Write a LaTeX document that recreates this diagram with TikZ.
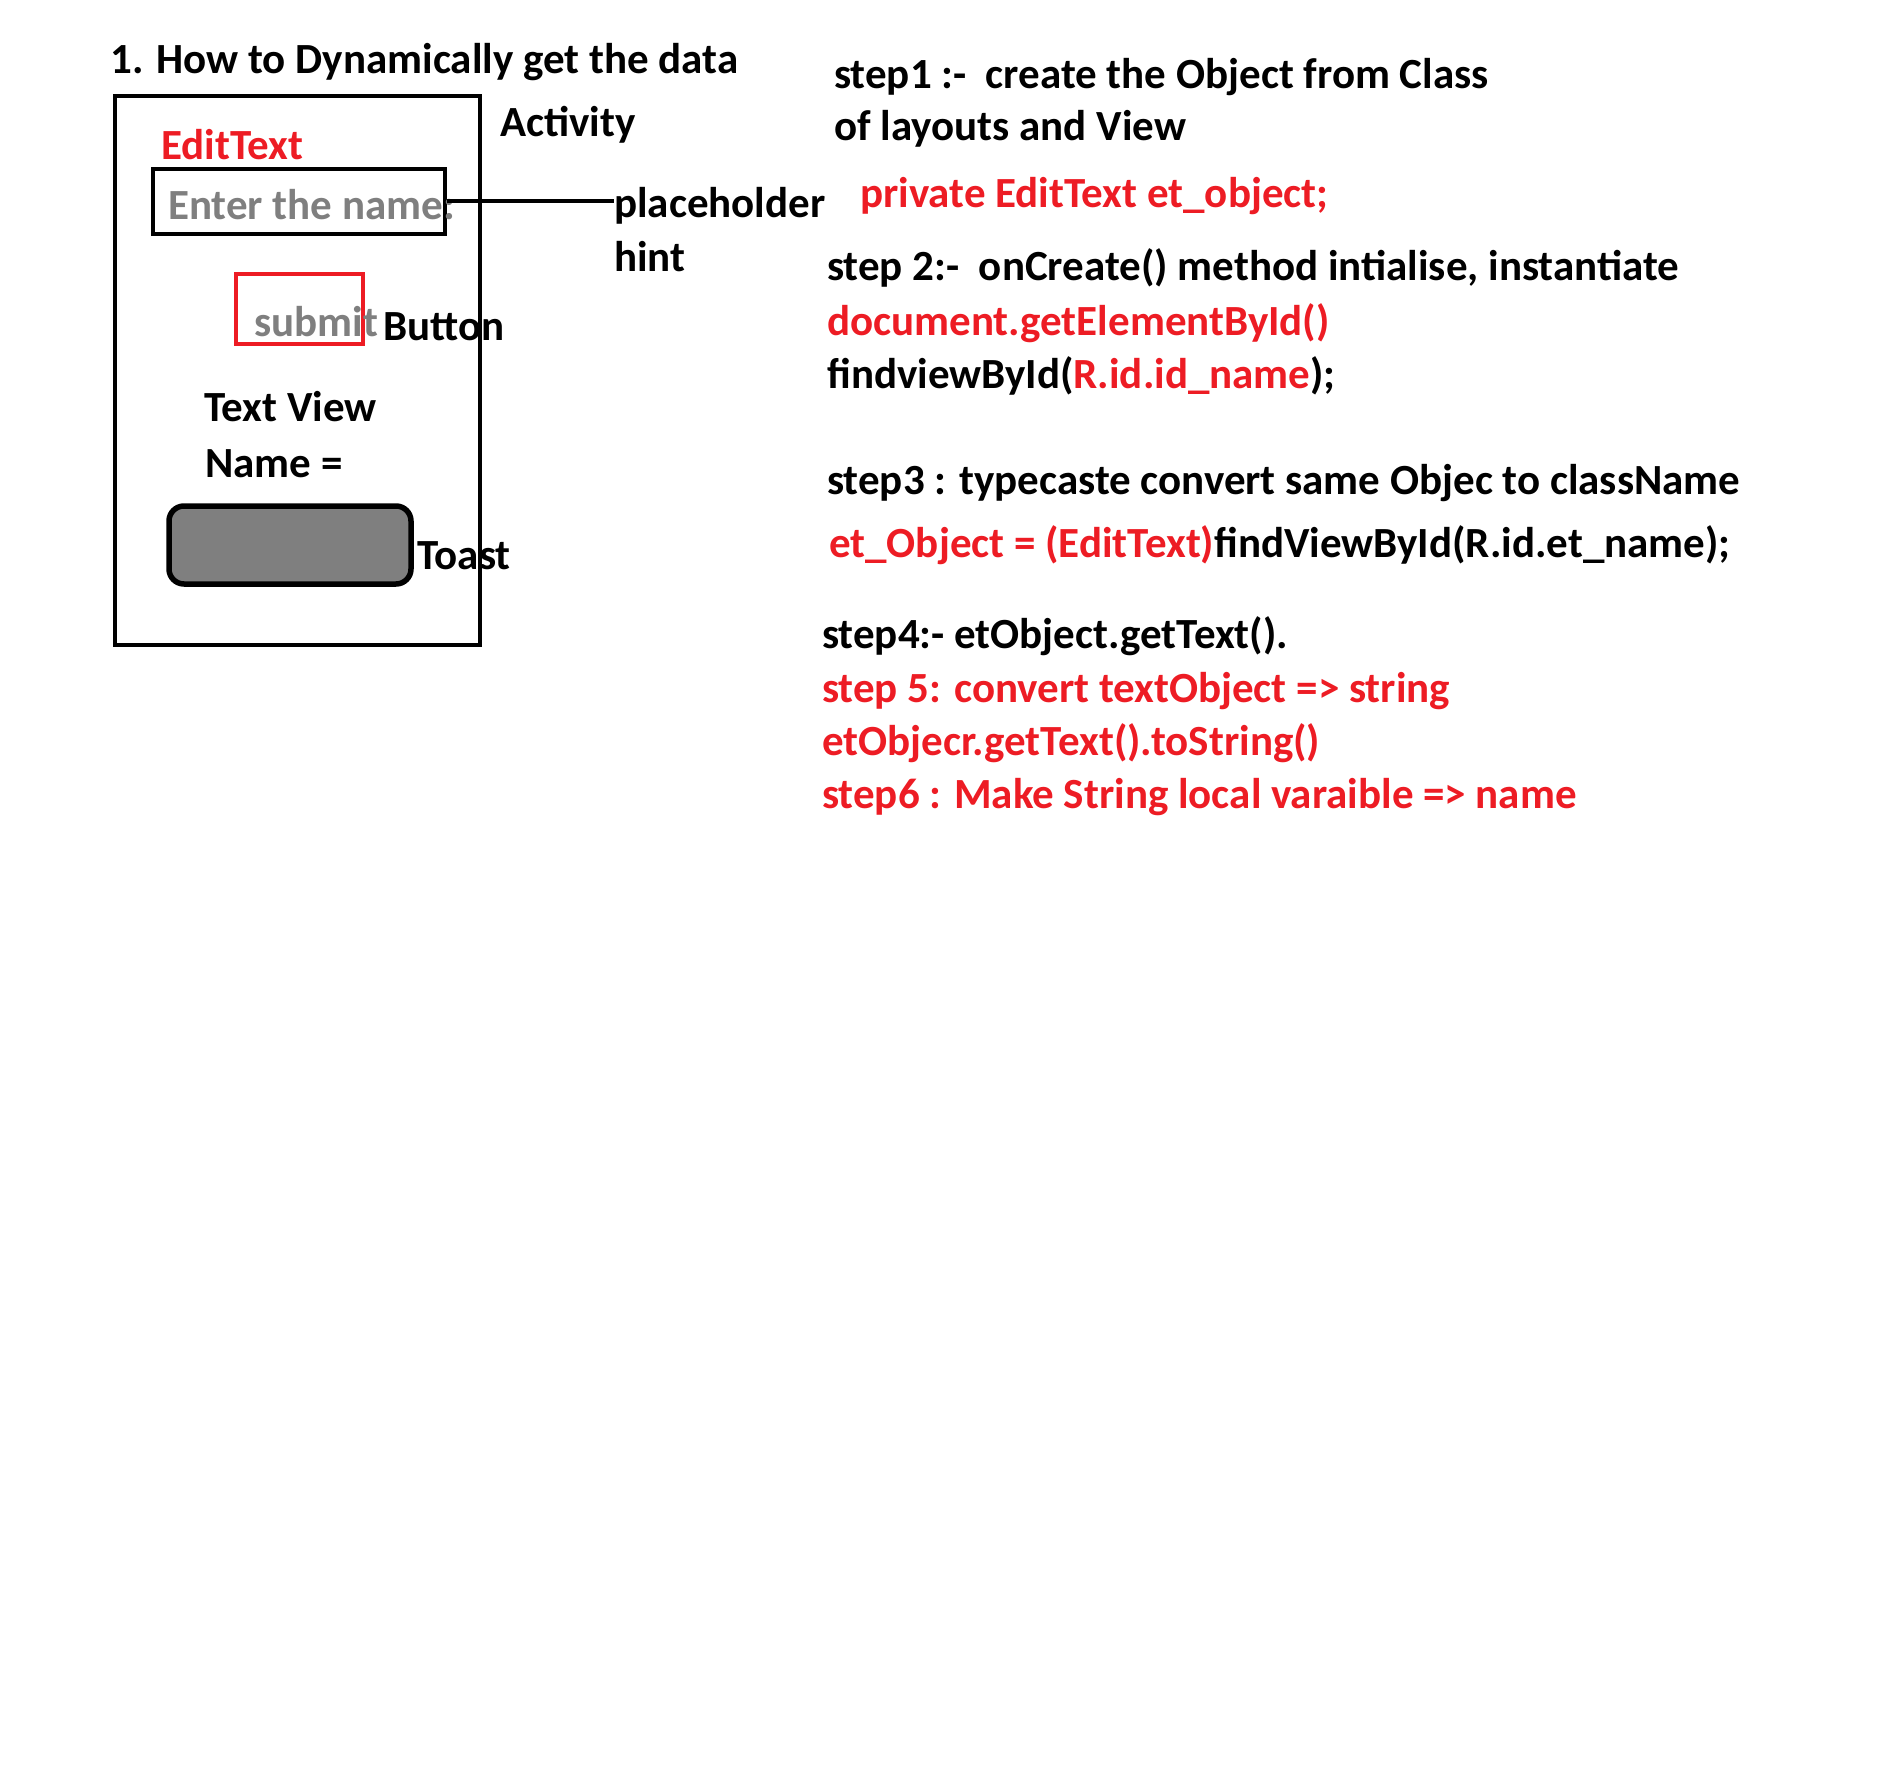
\documentclass[tikz,border=0pt]{standalone}
\usepackage{fontspec}
\setmainfont{Carlito}
\definecolor{pred}{HTML}{ED1C24}
\definecolor{pgray}{HTML}{7F7F7F}
\tikzset{
  txt/.style={anchor=base west, inner sep=0pt, yshift=-2pt, font=\fontsize{43}{52}\selectfont\bfseries},
  redtxt/.style={txt, text=pred},
  graytxt/.style={txt, text=pgray},
  frame/.style={draw=black, line width=4pt},
}
\begin{document}
\begin{tikzpicture}[x=1pt,y=-1pt]
\useasboundingbox (0,0) rectangle (1879,1787);
% left mock-up
\node[txt] (title) at (110,72) {1. How to Dynamically get the data};
\draw[frame] (115,96) rectangle (480,645);
\node[txt] (activity) at (500,135) {Activity};
\node[redtxt] (edittext) at (161,158) {EditText};
\node[draw=black, line width=4pt, minimum width=292pt, minimum height=65pt, inner sep=0pt] (editbox) at (299,201.5) {};
\node[graytxt] (enter) at (168,218) {Enter the name:};
\node[txt] (placeholder) at (614,216) {placeholder};
\node[txt] (hint) at (614,270) {hint};
\draw[line width=4pt] (editbox.east) -- (editbox.east -| placeholder.west);
\node[draw=pred, line width=4pt, minimum width=127pt, minimum height=70pt, inner sep=0pt] (submitbox) at (299.5,309) {};
\node[graytxt] (submit) at (254,334) {submit};
\node[txt] (button) at (383,338) {Button};
\node[txt] (textview) at (204,419) {Text View};
\node[txt] (namelbl) at (205,475) {Name =};
\node[draw=black, fill=pgray, line width=5.5pt, rounded corners=15pt, minimum width=242pt, minimum height=78pt, inner sep=0pt] (toast) at (290,545) {};
\node[txt] (toastlbl) at (417,567) {Toast};
% right column
\node[txt] (s1a) at (834,87) {step1 :-\ \ create the Object from Class};
\node[txt] (s1b) at (834,139) {of layouts and View};
\node[redtxt] (s1c) at (860,206) {private EditText et\_object;};
\node[txt] (s2a) at (827,279) {step 2:-\ \ onCreate() method intialise, instantiate};
\node[redtxt] (s2b) at (827,333) {document.getElementById()};
\node[txt] (s2c) at (827,386) {findviewById(\textcolor{pred}{R.id.id\_name});};
\node[txt] (s3a) at (827,492) {step3 : typecaste convert same Objec to className};
\node[txt] (s3b) at (829,555) {\textcolor{pred}{et\_Object = (EditText)}findViewById(R.id.et\_name);};
\node[txt] (s4) at (822,646) {step4:- etObject.getText().};
\node[redtxt] (s5) at (822,700) {step 5: convert textObject => string};
\node[redtxt] (s5b) at (822,753) {etObjecr.getText().toString()};
\node[redtxt] (s6) at (822,806) {step6 : Make String local varaible => name};
\end{tikzpicture}
\end{document}
